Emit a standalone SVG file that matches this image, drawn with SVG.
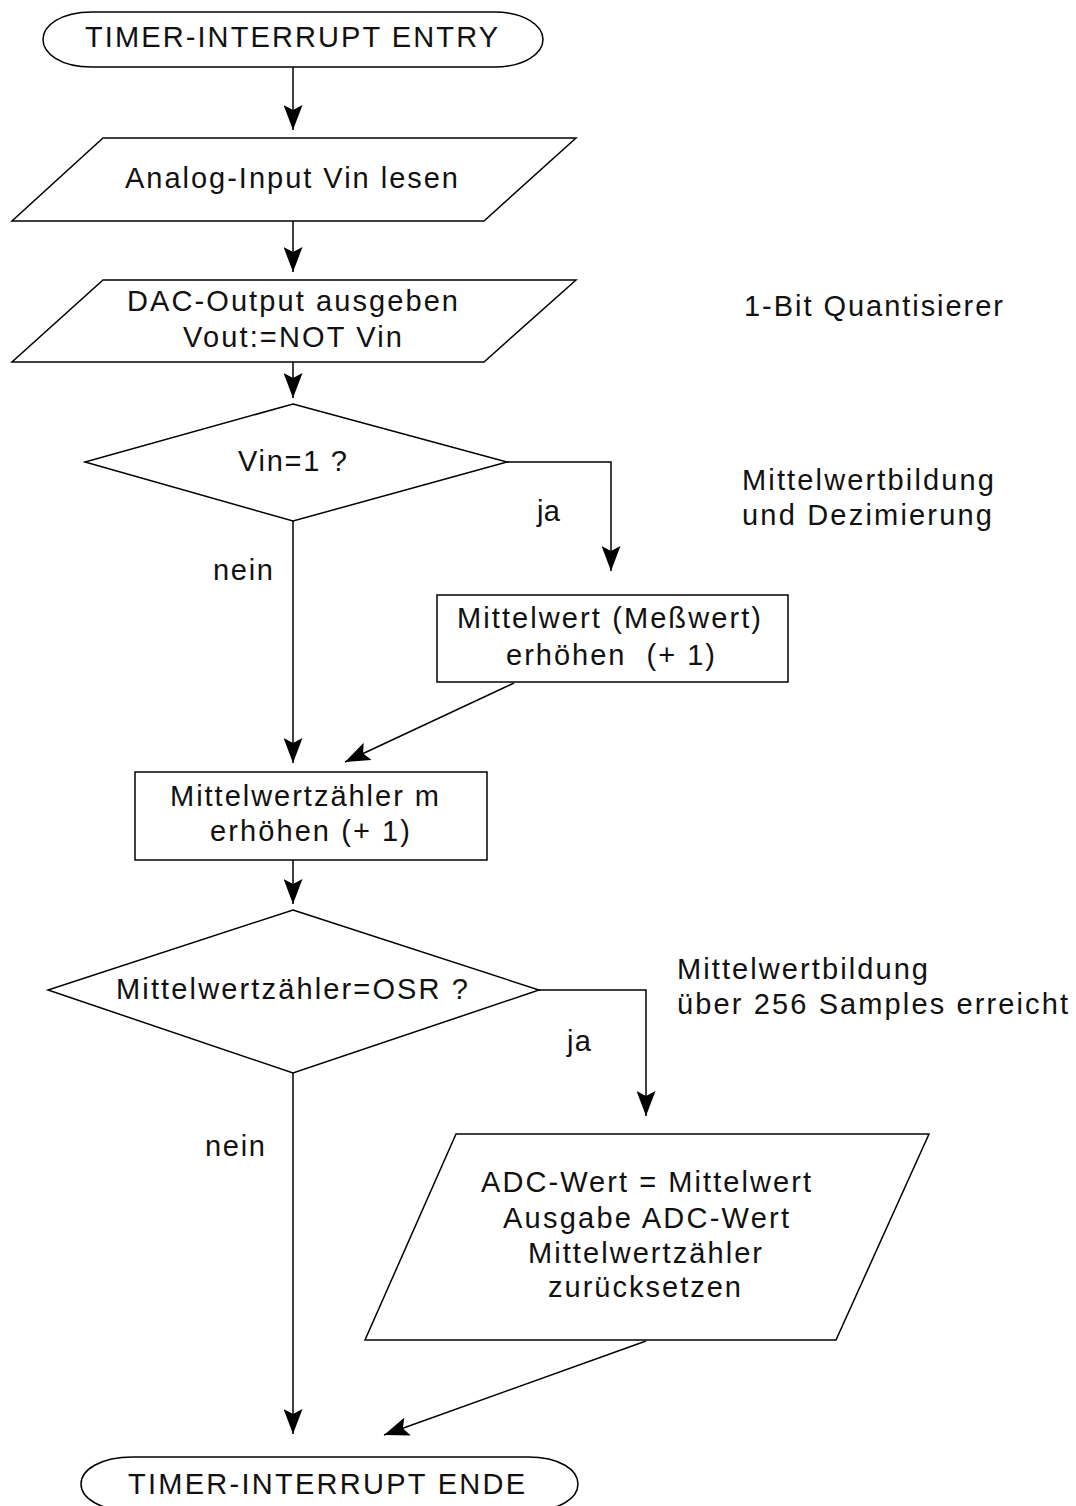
<svg xmlns="http://www.w3.org/2000/svg" width="1076" height="1506" viewBox="0 0 1076 1506">
<style>
.shape{fill:#fff;stroke:#000;stroke-width:1.5}
.conn{fill:none;stroke:#000;stroke-width:1.5;marker-end:url(#arrow)}
text{font-family:"Liberation Sans",Arial,sans-serif;font-size:29px;fill:#111;white-space:pre}
</style>
<defs>
<marker id="arrow" markerUnits="userSpaceOnUse" markerWidth="25" markerHeight="19" viewBox="0 0 25 19" refX="25" refY="9.5" orient="auto">
<path d="M0,0 L25,9.5 L0,19 L5,9.5 Z" fill="#000"/>
</marker>
</defs>
<rect width="1076" height="1506" fill="#fff"/>
<g id="connectors">
<path class="conn" d="M293,67 L293,130"/>
<path class="conn" d="M293,221 L293,272"/>
<path class="conn" d="M293,362 L293,398"/>
<path class="conn" d="M507,462 L611,462 L611,571"/>
<path class="conn" d="M293,521 L293,763"/>
<path class="conn" d="M514,683 L345,762"/>
<path class="conn" d="M293,860 L293,904"/>
<path class="conn" d="M539,990 L646,990 L646,1116"/>
<path class="conn" d="M293,1073 L293,1434"/>
<path class="conn" d="M646,1341 L384,1435"/>
</g>
<g id="start">
<path class="shape" d="M92,12 L494,12 C525,12 543,26 543,39.5 C543,53 525,67 494,67 L92,67 C60,67 43,53 43,39.5 C43,26 60,12 92,12 Z"/>
<text x="85" y="47" textLength="413" lengthAdjust="spacing">TIMER-INTERRUPT ENTRY</text>
</g>
<g id="read">
<polygon class="shape" points="103,138 576,138 484,221 12,221"/>
<text x="125" y="188" textLength="333" lengthAdjust="spacing">Analog-Input Vin lesen</text>
</g>
<g id="dac">
<polygon class="shape" points="103,280 576,280 484,362 12,362"/>
<text x="127" y="311" textLength="331" lengthAdjust="spacing">DAC-Output ausgeben</text>
<text x="183" y="347" textLength="219" lengthAdjust="spacing">Vout:=NOT Vin</text>
</g>
<g id="note1">
<text x="744" y="316" textLength="259" lengthAdjust="spacing">1-Bit Quantisierer</text>
</g>
<g id="dec1">
<polygon class="shape" points="293,404 507,462 293,521 85,462"/>
<text x="238" y="471" textLength="109" lengthAdjust="spacing">Vin=1 ?</text>
</g>
<g id="note2">
<text x="742" y="490" textLength="252" lengthAdjust="spacing">Mittelwertbildung</text>
<text x="742" y="525" textLength="250" lengthAdjust="spacing">und Dezimierung</text>
</g>
<g id="labels1">
<text x="537" y="521" textLength="23" lengthAdjust="spacing">ja</text>
<text x="213" y="580" textLength="60" lengthAdjust="spacing">nein</text>
</g>
<g id="inc-mean">
<rect class="shape" x="437" y="595" width="351" height="87"/>
<text x="457" y="628" textLength="304" lengthAdjust="spacing">Mittelwert (Meßwert)</text>
<text x="506" y="665" textLength="209" lengthAdjust="spacing">erhöhen  (+ 1)</text>
</g>
<g id="inc-count">
<rect class="shape" x="135" y="772" width="352" height="88"/>
<text x="170" y="806" textLength="269" lengthAdjust="spacing">Mittelwertzähler m</text>
<text x="210" y="841" textLength="200" lengthAdjust="spacing">erhöhen (+ 1)</text>
</g>
<g id="dec2">
<polygon class="shape" points="293,910 539,990 293,1073 48,990"/>
<text x="116" y="999" textLength="352" lengthAdjust="spacing">Mittelwertzähler=OSR ?</text>
</g>
<g id="note3">
<text x="677" y="979" textLength="251" lengthAdjust="spacing">Mittelwertbildung</text>
<text x="677" y="1014" textLength="391" lengthAdjust="spacing">über 256 Samples erreicht</text>
</g>
<g id="labels2">
<text x="567" y="1051" textLength="24" lengthAdjust="spacing">ja</text>
<text x="205" y="1156" textLength="60" lengthAdjust="spacing">nein</text>
</g>
<g id="output">
<polygon class="shape" points="456,1134 929,1134 836,1340 365,1340"/>
<text x="481" y="1192" textLength="330" lengthAdjust="spacing">ADC-Wert = Mittelwert</text>
<text x="503" y="1228" textLength="286" lengthAdjust="spacing">Ausgabe ADC-Wert</text>
<text x="528" y="1263" textLength="234" lengthAdjust="spacing">Mittelwertzähler</text>
<text x="548" y="1297" textLength="193" lengthAdjust="spacing">zurücksetzen</text>
</g>
<g id="end">
<path class="shape" d="M133,1457 L528,1457 C560,1457 578,1470 578,1484 C578,1498 560,1511 528,1511 L133,1511 C100,1511 81,1498 81,1484 C81,1470 100,1457 133,1457 Z"/>
<text x="128" y="1494" textLength="397" lengthAdjust="spacing">TIMER-INTERRUPT ENDE</text>
</g>
</svg>
